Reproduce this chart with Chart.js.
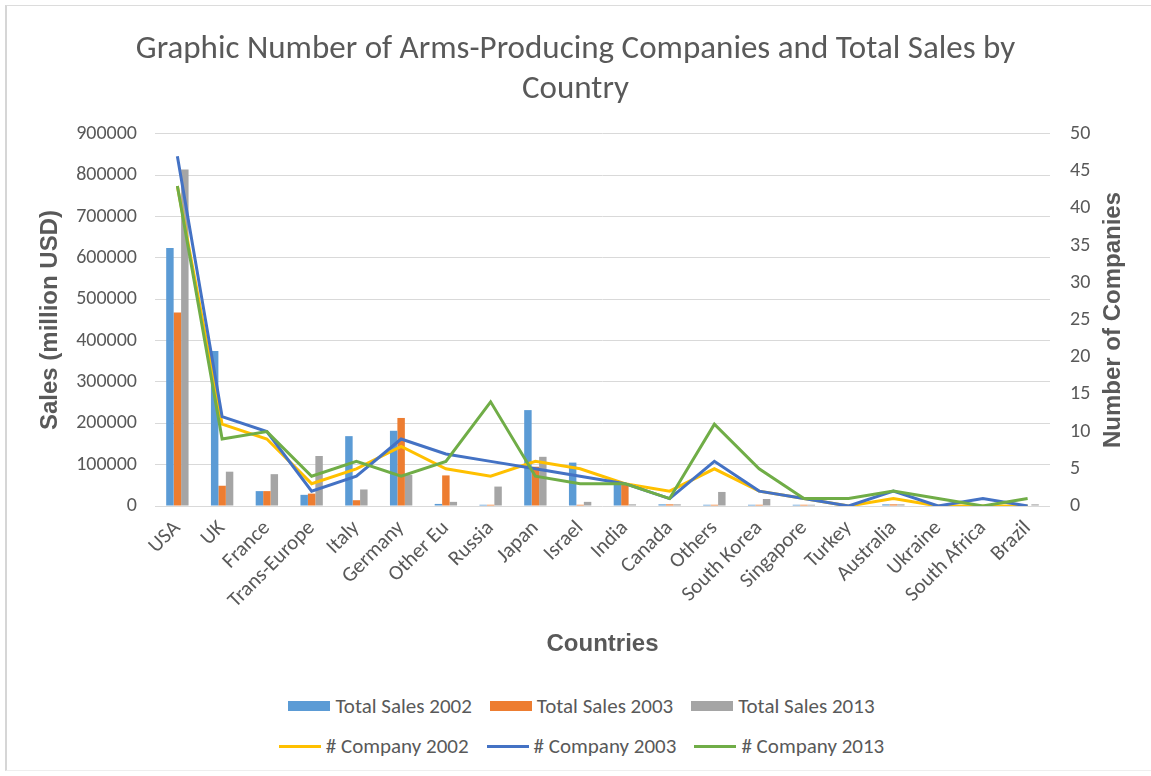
<!DOCTYPE html>
<html>
<head>
<meta charset="utf-8">
<script src="https://cdn.jsdelivr.net/npm/chart.js@4.4.1/dist/chart.umd.min.js"></script>
<style>
  html, body { margin: 0; padding: 0; background: #fff; }
  #frame { position: relative; width: 1151px; height: 776px; overflow: hidden; }
  #border { position: absolute; left: 5px; top: 5px; width: 1160px; height: 764px;
            border-left: 2px solid #d6d6d6; border-top: 1px solid #dcdcdc; border-bottom: 1px solid #eeeeee; }
  #wrap { position: absolute; left: 0; top: 0; width: 1151px; height: 680px; }
  #legend { position: absolute; left: 6px; top: 686px; width: 1151px;
            font-family: Carlito, Lato, sans-serif; font-size: 21px; color: #595959; }
  .row { display: flex; justify-content: center; height: 40px; align-items: center; }
  .item { display: flex; align-items: center; margin: 0 9px; white-space: nowrap; }
  .sw { display: inline-block; width: 42px; margin-right: 5px; }
</style>
</head>
<body>
<div id="frame">
  <div id="border"></div>
  <div id="wrap"><canvas id="armsChart" width="1151" height="680"></canvas></div>
  <div id="legend"></div>
</div>
<script>
// data
const countries = ['USA', 'UK', 'France', 'Trans-Europe', 'Italy', 'Germany', 'Other Eu', 'Russia', 'Japan', 'Israel',
    'India', 'Canada', 'Others', 'South Korea', 'Singapore', 'Turkey', 'Australia', 'Ukraine', 'South Africa', 'Brazil'];

const sales2002 = [624000, 375000, 36000, 27000, 169000, 182000, 5000, 3000, 232000, 105000,
    56000, 4000, 3000, 3000, 3000, 0, 4000, 0, 0, 0];
const sales2003 = [468000, 49000, 36000, 30000, 14000, 213000, 74000, 3000, 95000, 3000,
    51000, 4000, 3000, 3000, 3000, 0, 4000, 0, 0, 0];
const sales2013 = [814000, 83000, 77000, 121000, 40000, 75000, 10000, 47000, 119000, 10000,
    4000, 4000, 34000, 17000, 3000, 0, 4000, 0, 0, 4000];

const company2002 = [43, 11, 9, 3, 5, 8, 5, 4, 6, 5, 3, 2, 5, 2, 1, 0, 1, 0, 0, 0];
const company2003 = [47, 12, 10, 2, 4, 9, 7, 6, 5, 4, 3, 1, 6, 2, 1, 0, 2, 0, 1, 0];
const company2013 = [43, 9, 10, 4, 6, 4, 6, 14, 4, 3, 3, 1, 11, 5, 1, 1, 2, 1, 0, 1];

const salesTicks = [0, 100000, 200000, 300000, 400000, 500000, 600000, 700000, 800000, 900000];
const companyTicks = [0, 5, 10, 15, 20, 25, 30, 35, 40, 45, 50];

const txt = '#595959';
const font = 'Carlito, Lato, sans-serif';
const boldFont = '"Liberation Sans", Arial, sans-serif';

const bar = (label, data, color) => ({
    type: 'bar', label, data, backgroundColor: color, borderWidth: 0,
    yAxisID: 'y', order: 4, categoryPercentage: 0.5, barPercentage: 1.0
});
const line = (label, data, color, order) => ({
    type: 'line', label, data, borderColor: color, backgroundColor: color, borderWidth: 3,
    pointRadius: 0, tension: 0, fill: false, yAxisID: 'y1', order
});

const datasets = [
    bar('Total Sales 2002', sales2002, '#5B9BD5'),
    bar('Total Sales 2003', sales2003, '#ED7D31'),
    bar('Total Sales 2013', sales2013, '#A5A5A5'),
    line('# Company 2002', company2002, '#FFC000', 3),
    line('# Company 2003', company2003, '#4472C4', 2),
    line('# Company 2013', company2013, '#70AD47', 1)
];

// secondary axis title reads bottom-to-top like the original
const rightTitle = {
    id: 'rightTitle',
    afterDraw(chart) {
        const {ctx, chartArea} = chart;
        ctx.save();
        ctx.translate(1113, (chartArea.top + chartArea.bottom) / 2);
        ctx.rotate(-Math.PI / 2);
        ctx.font = 'bold 24px ' + boldFont;
        ctx.fillStyle = txt;
        ctx.textAlign = 'center';
        ctx.textBaseline = 'middle';
        ctx.fillText('Number of Companies', 0, 0);
        ctx.restore();
    }
};

const chart = new Chart(document.getElementById('armsChart').getContext('2d'), {
    data: { labels: countries, datasets },
    options: {
        responsive: false,
        animation: false,
        layout: { padding: 0 },
        plugins: {
            legend: { display: false },
            tooltip: { enabled: false },
            title: {
                display: true,
                text: ['Graphic Number of Arms-Producing Companies and Total Sales by', 'Country'],
                color: txt,
                font: { family: font, size: 33, weight: '300', lineHeight: 1.212 },
                padding: { top: 30, bottom: 24 }
            }
        },
        scales: {
            x: {
                grid: { display: false },
                border: { display: false },
                ticks: {
                    color: txt, font: { family: font, size: 21 },
                    minRotation: 45, maxRotation: 45, autoSkip: false, padding: 2
                },
                title: {
                    display: true, text: 'Countries', color: txt,
                    font: { family: boldFont, size: 24, weight: 'bold' },
                    padding: { top: 0, bottom: 21 }
                },
                afterFit: s => { s.height = 174; }
            },
            y: {
                position: 'left', min: 0, max: 900000,
                grid: { color: '#d9d9d9', lineWidth: 1, drawTicks: false },
                border: { display: false },
                afterBuildTicks: s => { s.ticks = salesTicks.map(v => ({ value: v })); },
                ticks: { color: txt, font: { family: font, size: 20 }, padding: 18, callback: v => String(v) },
                title: {
                    display: true, text: 'Sales (million USD)', color: txt,
                    font: { family: boldFont, size: 24, weight: 'bold' },
                    padding: { top: 36, bottom: 0 }
                },
                afterFit: s => { s.width = 155; }
            },
            y1: {
                position: 'right', min: 0, max: 50,
                grid: { display: false, drawTicks: false },
                border: { display: false },
                afterBuildTicks: s => { s.ticks = companyTicks.map(v => ({ value: v })); },
                ticks: { color: txt, font: { family: font, size: 20 }, padding: 20 },
                afterFit: s => { s.width = 101; }
            }
        }
    },
    plugins: [rightTitle]
});

// two-row legend as in the original
const legendRows = [[0, 1, 2], [3, 4, 5]];
const legendEl = document.getElementById('legend');
legendRows.forEach(idx => {
    const row = document.createElement('div');
    row.className = 'row';
    idx.forEach(i => {
        const ds = chart.data.datasets[i];
        const item = document.createElement('span');
        item.className = 'item';
        const sw = document.createElement('span');
        sw.className = 'sw';
        sw.style.height = ds.type === 'bar' ? '10px' : '3px';
        sw.style.background = ds.type === 'bar' ? ds.backgroundColor : ds.borderColor;
        item.appendChild(sw);
        item.appendChild(document.createTextNode(ds.label));
        row.appendChild(item);
    });
    legendEl.appendChild(row);
});
</script>
</body>
</html>
